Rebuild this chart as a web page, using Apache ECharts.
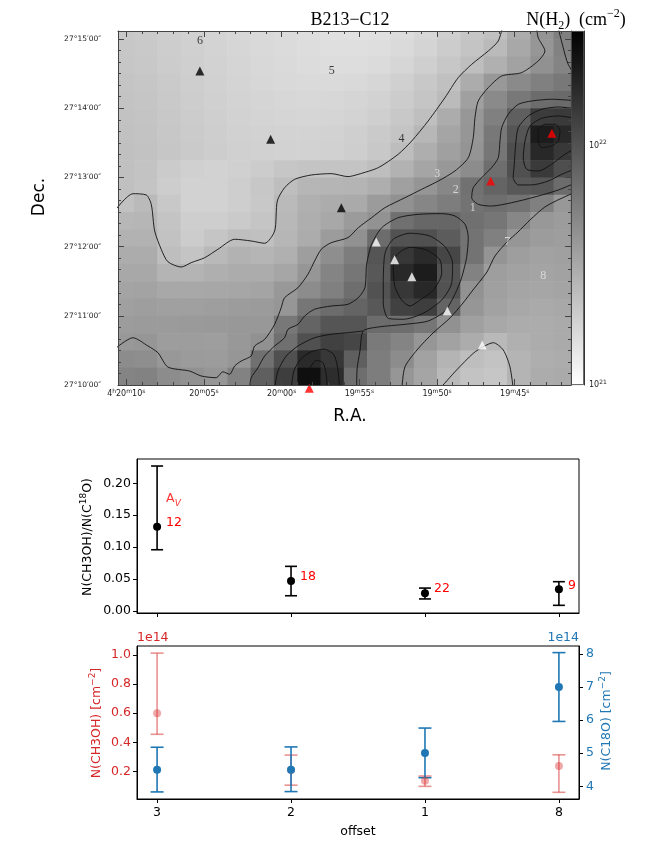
<!DOCTYPE html>
<html>
<head>
<meta charset="utf-8">
<script src="https://cdn.jsdelivr.net/npm/echarts@6/dist/echarts.min.js"></script>
<style>
  html, body { margin: 0; padding: 0; background: #fff; }
  #chart { width: 664px; height: 850px; }
</style>
</head>
<body>
<div id="chart"></div>
<script>
// ---------- map data ----------
// RA in seconds after 4h19m00s, Dec in arcsec after 27d10m00s
var raCenters = [70.25, 68.75, 67.25, 65.75, 64.25, 62.75, 61.25, 59.75, 58.25, 56.75,
                 55.25, 53.75, 52.25, 50.75, 49.25, 47.75, 46.25, 44.75, 43.25, 41.75];
var decCenters = [307.5, 292.5, 277.5, 262.5, 247.5, 232.5, 217.5, 202.5, 187.5, 172.5, 157.5,
                  142.5, 127.5, 112.5, 97.5, 82.5, 67.5, 52.5, 37.5, 22.5, 7.5];
// N(H2) in 1e21 cm^-2, one row per decCenters entry (north at top)
var nH2 = [
  [2.09,2.03,1.92,1.85,1.78,1.71,1.64,1.60,1.56,1.52,1.50,1.52,1.58,1.71,1.90,2.14,2.32,3.03,4.17,5.46],
  [2.12,2.06,1.95,1.87,1.80,1.73,1.66,1.62,1.58,1.54,1.54,1.56,1.64,1.78,1.98,2.20,2.52,3.20,4.06,5.31],
  [2.14,2.09,1.98,1.90,1.82,1.75,1.69,1.64,1.60,1.58,1.58,1.62,1.73,1.90,2.12,2.38,2.87,3.47,4.34,5.17],
  [2.20,2.14,2.03,1.92,1.85,1.78,1.71,1.66,1.64,1.64,1.66,1.73,1.87,2.09,2.32,3.03,3.95,4.78,5.46,6.07],
  [2.23,2.17,2.06,1.95,1.87,1.80,1.75,1.71,1.69,1.71,1.75,1.82,1.98,2.17,2.49,3.56,4.78,6.07,7.13,7.33],
  [2.26,2.20,2.09,1.98,1.90,1.82,1.78,1.75,1.73,1.75,1.80,1.90,2.09,2.35,3.03,4.00,5.46,8.49,13.6,14.0],
  [2.29,2.23,2.12,2.01,1.92,1.85,1.82,1.80,1.80,1.82,1.90,2.03,2.20,2.62,3.33,4.06,6.07,9.71,20.8,17.7],
  [2.32,2.26,2.14,2.03,1.95,1.87,1.85,1.82,1.82,1.85,1.92,2.09,2.42,2.95,3.56,4.17,6.24,10.7,17.7,14.3],
  [2.32,2.23,2.01,1.87,1.82,1.87,1.98,2.14,2.20,2.20,2.20,2.38,2.80,3.33,3.95,4.65,6.95,10.4,14.0,10.7],
  [2.32,2.20,1.95,1.82,1.82,1.92,2.12,2.38,2.65,2.68,2.72,2.95,3.56,4.11,4.97,6.67,7.94,9.33,9.58,7.13],
  [2.29,2.52,2.09,1.82,1.82,1.92,2.09,2.52,2.87,3.03,3.11,3.80,4.34,5.04,5.68,6.49,6.95,6.49,5.46,3.95],
  [2.62,2.65,2.20,1.92,1.92,2.03,2.17,2.58,2.95,3.20,3.80,4.28,6.77,7.63,7.73,6.77,6.24,4.97,3.95,3.75],
  [2.80,2.80,2.26,1.98,2.17,2.38,2.32,2.65,3.03,3.75,4.34,7.13,10.1,10.4,8.85,6.49,5.46,4.06,3.75,3.65],
  [3.03,3.03,2.38,2.20,2.55,2.80,2.69,2.87,3.65,4.53,5.68,9.71,14.5,17.3,11.9,6.49,4.17,3.65,3.47,3.56],
  [3.20,3.20,2.72,2.72,2.91,3.03,3.03,3.29,4.06,5.17,6.24,9.33,17.7,20.8,10.1,5.31,3.65,3.47,3.38,3.47],
  [3.38,3.42,3.20,3.20,3.24,3.29,3.38,3.95,4.65,5.46,6.95,10.1,14.5,17.7,10.1,4.28,3.56,3.33,3.29,3.38],
  [3.56,3.65,3.56,3.56,3.65,3.75,3.80,4.06,6.24,7.13,7.94,9.33,12.7,13.2,7.94,4.06,3.47,3.20,3.11,3.20],
  [3.75,3.80,3.80,3.85,3.90,3.95,3.95,6.07,7.94,9.71,9.71,7.13,6.95,6.24,4.34,3.56,3.20,3.03,3.03,3.11],
  [3.95,4.06,3.70,3.70,3.65,3.95,4.34,6.77,10.4,12.7,11.9,5.91,5.17,4.06,3.47,3.03,2.55,2.87,3.03,3.11],
  [4.65,4.53,3.95,3.80,3.75,4.06,6.77,10.4,17.3,14.5,8.49,5.68,4.65,3.47,2.72,2.38,2.23,2.72,2.95,3.03],
  [5.17,5.31,4.65,4.34,4.06,5.31,8.49,13.2,24.7,16.6,6.95,5.68,4.06,3.33,2.55,2.23,2.14,2.72,3.03,3.11]
];

// contour paths [RA s, Dec arcsec]
var contourA = [[70.8,150],[69.57,165.9],[68.71,164.8],[68.39,156.7],[68.17,133.6],[67.75,117.7],[67.32,106.9],[66.46,102.3],[65.82,106.1],[64.95,110.4],[64.10,117.7],[63.02,126.4],[61.96,124.9],[61.09,122.9],[60.45,133.6],[60.28,159.6],[59.81,171.1],[59.16,178.4],[58.10,182.1],[56.81,183.3],[55.73,180.7],[55.07,182.7],[53.78,188.5],[52.50,200.1],[51.63,211.6],[50.57,229.0],[49.49,249.2],[48.64,266.5],[47.77,278.1],[46.70,289.7],[46.06,298.4],[45.76,312]];
var contourB = [[70.8,30.5],[69.57,41.0],[68.60,33.8],[67.96,28.0],[67.32,15.6],[65.92,12.1],[65.17,7.8],[64.21,6.3],[63.78,11.5],[63.35,9.3],[63.02,16.5],[62.60,20.8],[61.96,25.2],[61.74,33.8],[61.09,39.6],[60.45,52.6],[60.03,67.0],[59.81,75.7],[58.95,84.4],[58.31,96.0],[57.88,107.5],[57.45,117.7],[56.81,123.4],[55.73,127.8],[55.07,136.4],[54.21,145.1],[53.35,153.8],[52.07,162.4],[50.99,169.7],[49.92,176.9],[48.85,185.6],[47.99,197.1],[47.67,214.5],[47.56,231.8],[47.35,246.3],[46.70,257.9],[45.84,268.0],[44.56,270.9],[43.49,281.0],[43.06,289.7],[43.49,301.2],[43.62,312]];
var contourE = [[40.8,169],[42.09,161.3],[43.06,154.4],[44.02,143.1],[44.79,132.7],[45.50,124.0],[46.27,111.9],[46.79,98.0],[47.69,82.4],[48.33,71.1],[49.17,58.1],[50.26,45.1],[51.29,30.4],[52.07,15.6],[52.26,-3]];
var contourM1 = [[62.06,-3],[61.96,6.3],[61.52,15.0],[61.09,25.2],[60.45,33.8],[59.81,41.0],[59.59,48.3],[58.95,52.6],[58.52,59.8],[57.88,65.7],[56.81,68.5],[55.73,70.0],[55.07,75.7],[54.64,84.4],[54.53,104.7],[54.21,122.0],[53.56,136.4],[52.50,145.1],[51.21,148.0],[49.70,148.6],[48.85,146.6],[48.20,139.4],[47.99,127.8],[48.10,110.4],[48.42,93.1],[48.85,78.7],[49.49,64.2],[50.57,55.5],[52.07,52.6],[53.78,50.3],[54.75,46.8],[54.96,29.5],[55.15,13.0],[55.17,-3]];
var contourM2 = [[53.46,91.1],[53.35,114.2],[52.82,126.4],[51.74,131.6],[50.46,129.2],[49.49,119.9],[49.00,105.6],[49.06,88.2],[49.70,73.7],[50.89,62.2],[52.17,57.0],[53.14,57.8],[53.46,70.9],[53.46,91.1]];
var contourM3 = [[52.82,102.6],[52.60,112.7],[51.74,119.4],[50.67,117.1],[49.81,108.4],[49.70,96.9],[50.24,82.4],[51.10,73.7],[51.74,68.5],[52.28,73.7],[52.71,85.3],[52.82,102.6]];
var contourR1 = [[60.45,-3],[60.24,12.1],[59.70,25.2],[58.95,33.8],[57.88,41.0],[56.81,44.0],[55.73,45.4],[54.77,46.8]];
var contourR2 = [[59.38,-3],[59.21,12.1],[58.78,22.3],[58.10,28.9],[57.23,31.0],[56.63,26.0],[56.38,13.6],[56.27,-3]];
var contourR3 = [[58.35,-3],[58.20,13.6],[57.77,21.4],[57.34,19.3],[57.13,9.3],[57.07,-3]];
var contourBR = [[49.81,-3],[48.74,13.0],[47.67,27.5],[47.03,33.2],[46.38,36.7],[45.74,30.4],[45.31,15.9],[45.10,-3]];
var contourC1 = [[40.8,177],[42.20,169.1],[43.70,163.1],[45.20,158.1],[46.49,155.2],[47.35,156.7],[47.77,162.4],[47.67,171.1],[47.13,179.8],[46.49,188.5],[46.06,197.1],[45.95,211.6],[45.84,223.2],[45.42,234.8],[44.77,243.4],[43.91,246.3],[42.63,247.8],[40.8,246.3]];
var contourC2 = [[40.8,239],[42.20,241.1],[43.27,239.1],[44.13,233.3],[44.77,223.2],[44.94,208.8],[45.03,191.4],[45.10,179.8],[44.77,173.5],[43.91,173.5],[42.84,176.9],[41.98,182.7],[40.8,189]];
var contourC3 = [[40.8,230.4],[42.20,233.3],[43.27,231.3],[44.02,224.6],[44.34,211.6],[44.45,197.1],[44.23,187.1],[43.49,185.6],[42.63,191.4],[41.77,200.1],[40.8,207.3]];
var contourC4 = [[43.49,221.8],[43.06,226.1],[42.41,226.1],[42.09,220.3],[42.20,211.6],[42.63,207.3],[43.27,205.8],[43.49,211.6],[43.49,221.8]];
var contourT = [[42.25,312],[41.88,292.5],[41.56,278.1],[40.8,262]];

var blackTriangles = [[65.26,272.3],[60.71,213.1],[56.16,153.8]];
var whiteTriangles = [[53.91,124.0],[52.73,108.7],[51.62,93.9],[49.34,64.2],[47.09,34.7]];
var redTriangles = [[46.55,176.9],[42.61,218.3],[58.22,-2.9]];

var offsetNamesOnLight = ['6', '5', '4'];
var offsetPosOnLight = [[65.26,298.6],[56.78,272.6],[52.28,213.4]];
var offsetNamesOnDark = ['3', '2', '1', '7', '8'];
var offsetPosOnDark = [[49.99,183.0],[48.80,169.1],[47.71,153.8],[45.48,124.3],[43.17,94.5]];

// ---------- line-of-sight data ----------
var offsets = ['3', '2', '1', '8'];
var ratio = [0.132, 0.047, 0.028, 0.034];
var ratioLow = [0.096, 0.024, 0.019, 0.009];
var ratioHigh = [0.227, 0.070, 0.036, 0.046];
var avValues = [12, 18, 22, 9];
var ch3oh = [0.60, 0.21, 0.135, 0.237];      // 1e14 cm^-2
var ch3ohLow = [0.455, 0.105, 0.097, 0.056];
var ch3ohHigh = [1.013, 0.312, 0.168, 0.314];
var c18o = [4.50, 4.50, 5.01, 7.00];         // 1e14 cm^-2
var c18oLow = [3.83, 3.84, 4.26, 5.96];
var c18oHigh = [5.18, 5.19, 5.76, 8.04];

// ---------- setup ----------
var SANS = '"DejaVu Sans", sans-serif';
var SERIF = '"Liberation Serif", serif';
var RED = '#d62728', BLUE = '#1f77b4';

var raMin = 41.38, raMax = 70.53, decMin = 0, decMax = 307;
var raHalf = Math.abs(raCenters[0] - raCenters[1]) / 2;
var decHalf = Math.abs(decCenters[0] - decCenters[1]) / 2;

var heatData = [];
decCenters.forEach(function (dec, r) {
  raCenters.forEach(function (ra, c) {
    heatData.push([ra, dec, 21 + Math.log10(nH2[r][c])]);
  });
});

var raMajor = [45, 50, 55, 60, 65, 70], raMinor = [];
for (var s = 42; s <= 70; s++) if (s % 5) raMinor.push(s);
var decMajor = [0, 60, 120, 180, 240, 300], decMinor = [];
for (var d = 10; d <= 300; d += 10) if (d % 60) decMinor.push(d);

function raLabel(v) {
  var sec = Math.round(v);
  var m = sec >= 60 ? 20 : 19;
  var ss = sec >= 60 ? sec - 60 : sec;
  var txt = '{b|' + m + '}{s|m}{b|' + (ss < 10 ? '0' : '') + ss + '}{s|s}';
  return sec === 70 ? '{b|4}{s|h}' + txt : txt;
}
function decLabel(v) {
  return '27°' + (10 + Math.round(v / 60)) + '′00″';
}
var smallRich = {
  b: { fontSize: 8, lineHeight: 12, verticalAlign: 'middle', fontFamily: SANS, color: '#222' },
  s: { fontSize: 6, lineHeight: 6, verticalAlign: 'top', fontFamily: SANS, color: '#222' }
};

function mapAxis(isX, pos, ticks, len, labels) {
  var ax = {
    gridIndex: 0, type: 'value', position: pos, z: 10,
    min: isX ? raMin : decMin, max: isX ? raMax : decMax,
    axisLine: { show: !!labels, onZero: false, lineStyle: { color: '#444', width: 1 } },
    axisTick: { inside: true, length: len, customValues: ticks, lineStyle: { color: '#444', width: 1 } },
    axisLabel: { show: false },
    splitLine: { show: false }
  };
  if (isX) ax.inverse = true;
  if (labels) ax.axisLabel = labels;
  return ax;
}

function errorBarItem(capHalf, width) {
  return function (params, api) {
    var x = api.value(0);
    var lo = api.coord([x, api.value(1)]);
    var hi = api.coord([x, api.value(2)]);
    var st = { stroke: api.visual('color'), lineWidth: width };
    return {
      type: 'group',
      children: [
        { type: 'line', shape: { x1: lo[0], y1: lo[1], x2: hi[0], y2: hi[1] }, style: st },
        { type: 'line', shape: { x1: lo[0] - capHalf, y1: lo[1], x2: lo[0] + capHalf, y2: lo[1] }, style: st },
        { type: 'line', shape: { x1: hi[0] - capHalf, y1: hi[1], x2: hi[0] + capHalf, y2: hi[1] }, style: st }
      ]
    };
  };
}
function bars(lo, hi) {
  return offsets.map(function (o, i) { return [i, lo[i], hi[i]]; });
}
function points(v) {
  return offsets.map(function (o, i) { return [i, v[i]]; });
}

var tickFont = { fontFamily: SANS, fontSize: 12.5, color: '#000' };

var series = [
  {
    type: 'custom', xAxisIndex: 0, yAxisIndex: 0, data: heatData, encode: { x: 0, y: 1 },
    silent: true, z: 1,
    renderItem: function (params, api) {
      var a = api.coord([api.value(0) + raHalf, api.value(1) + decHalf]);
      var b = api.coord([api.value(0) - raHalf, api.value(1) - decHalf]);
      var cs = params.coordSys;
      var rect = echarts.graphic.clipRectByRect({
        x: Math.min(a[0], b[0]), y: Math.min(a[1], b[1]),
        width: Math.abs(a[0] - b[0]) + 0.6, height: Math.abs(a[1] - b[1]) + 0.6
      }, { x: cs.x, y: cs.y, width: cs.width, height: cs.height });
      return rect && { type: 'rect', shape: rect, style: { fill: api.visual('color') } };
    }
  }
];

[contourA, contourB, contourE, contourM1, contourM2, contourM3, contourR1, contourR2, contourR3,
 contourBR, contourC1, contourC2, contourC3, contourC4, contourT].forEach(function (c) {
  series.push({
    type: 'line', xAxisIndex: 0, yAxisIndex: 0, data: c, symbol: 'none', silent: true, z: 3,
    smooth: 0.25, lineStyle: { color: '#111', width: 0.9 }
  });
});

[[blackTriangles, '#000'], [whiteTriangles, '#fff'], [redTriangles, '#ff0000']].forEach(function (t) {
  series.push({
    type: 'scatter', xAxisIndex: 0, yAxisIndex: 0, data: t[0], symbol: 'triangle', symbolSize: 9,
    itemStyle: { color: t[1] }, clip: false, silent: true, z: 5
  });
});

[[offsetPosOnLight, offsetNamesOnLight, '#111'], [offsetPosOnDark, offsetNamesOnDark, '#e6e6e6']].forEach(function (g) {
  series.push({
    type: 'scatter', xAxisIndex: 0, yAxisIndex: 0, data: g[0], symbolSize: 1,
    itemStyle: { color: 'transparent' }, silent: true, z: 6,
    label: {
      show: true, position: 'inside', color: g[2], fontFamily: SERIF, fontSize: 12,
      formatter: function (p) { return g[1][p.dataIndex]; }
    }
  });
});

// colorbar
series.push({
  type: 'bar', xAxisIndex: 4, yAxisIndex: 4, data: [1], barWidth: '100%', silent: true,
  itemStyle: {
    borderColor: '#333', borderWidth: 0.8,
    color: new echarts.graphic.LinearGradient(0, 0, 0, 1, [
      { offset: 0, color: '#000000' }, { offset: 1, color: '#ffffff' }
    ])
  }
});

// ratio panel
series.push({
  type: 'custom', xAxisIndex: 5, yAxisIndex: 6, data: bars(ratioLow, ratioHigh), encode: { x: 0, y: [1, 2] },
  itemStyle: { color: '#000' }, renderItem: errorBarItem(6, 1.6), silent: true
});
series.push({
  type: 'scatter', xAxisIndex: 5, yAxisIndex: 6, data: points(ratio), symbolSize: 8,
  itemStyle: { color: '#000', opacity: 1 }, silent: true,
  label: {
    show: true, position: 'right', distance: 5, offset: [0, -4], color: '#ff0000',
    fontFamily: SANS, fontSize: 12.5,
    formatter: function (p) { return String(avValues[p.dataIndex]); }
  }
});
series.push({
  type: 'scatter', xAxisIndex: 5, yAxisIndex: 6, data: points(ratio).slice(0, 1), symbolSize: 8,
  itemStyle: { color: 'transparent' }, silent: true,
  label: {
    show: true, position: 'right', distance: 5, offset: [0, -28],
    formatter: '{a|A}{v|V}',
    rich: {
      a: { color: '#ff0000', fontFamily: SANS, fontSize: 12.5, lineHeight: 18, verticalAlign: 'middle' },
      v: { color: '#ff0000', fontFamily: SANS, fontSize: 9, fontStyle: 'italic', lineHeight: 9, verticalAlign: 'bottom' }
    }
  }
});

// column density panel
series.push({
  type: 'custom', xAxisIndex: 6, yAxisIndex: 7, data: bars(ch3ohLow, ch3ohHigh), encode: { x: 0, y: [1, 2] },
  itemStyle: { color: 'rgba(214,39,40,0.5)' }, renderItem: errorBarItem(6.5, 1.6), silent: true
});
series.push({
  type: 'scatter', xAxisIndex: 6, yAxisIndex: 7, data: points(ch3oh), symbolSize: 8,
  itemStyle: { color: 'rgba(214,39,40,0.5)' }, silent: true
});
series.push({
  type: 'custom', xAxisIndex: 6, yAxisIndex: 8, data: bars(c18oLow, c18oHigh), encode: { x: 0, y: [1, 2] },
  itemStyle: { color: BLUE }, renderItem: errorBarItem(6.5, 1.6), silent: true
});
series.push({
  type: 'scatter', xAxisIndex: 6, yAxisIndex: 8, data: points(c18o), symbolSize: 8,
  itemStyle: { color: BLUE, opacity: 1 }, silent: true
});

function supRich(size, color) {
  return {
    b: { fontSize: size, lineHeight: 18, verticalAlign: 'middle', fontFamily: SANS, fill: color, color: color },
    p: { fontSize: size * 0.72, lineHeight: 9, verticalAlign: 'top', fontFamily: SANS, fill: color, color: color }
  };
}
function gText(x, y, text, opts) {
  opts = opts || {};
  return {
    type: 'text', x: x, y: y, rotation: opts.rot || 0, silent: true,
    style: {
      text: text, rich: opts.rich, fill: opts.color || '#000',
      font: opts.font || ('12.5px ' + SANS),
      align: opts.align || 'center', verticalAlign: 'middle',
      textAlign: opts.align || 'center', textVerticalAlign: 'middle'
    }
  };
}
function panelAxisLine() {
  return { show: true, onZero: false, lineStyle: { color: '#000' } };
}

var option = {
  animation: false,
  backgroundColor: '#fff',
  grid: [
    { left: 118, top: 31, width: 453, height: 354 },
    { left: 571, top: 31, width: 13, height: 354 },
    { left: 137, top: 459, width: 442, height: 154, show: true, borderColor: '#000', borderWidth: 1 },
    { left: 137, top: 646, width: 442, height: 153, show: true, borderColor: '#000', borderWidth: 1 }
  ],
  visualMap: {
    type: 'continuous', show: false, seriesIndex: 0, dimension: 2,
    min: 21, max: 22.48, inRange: { color: ['#ffffff', '#000000'] }
  },
  xAxis: [
    mapAxis(true, 'bottom', raMajor, 6, {
      customValues: raMajor, formatter: raLabel, rich: smallRich, margin: 3
    }),
    mapAxis(true, 'bottom', raMinor, 3),
    mapAxis(true, 'top', raMajor, 6, { show: false }),
    mapAxis(true, 'top', raMinor, 3),
    { gridIndex: 1, type: 'category', data: ['cb'], show: false },
    {
      gridIndex: 2, type: 'value', min: -0.15, max: 3.15,
      axisLine: panelAxisLine(),
      axisTick: { length: 4, customValues: [0, 1, 2, 3], lineStyle: { color: '#000' } },
      axisLabel: { show: false }, splitLine: { show: false }
    },
    {
      gridIndex: 3, type: 'value', min: -0.15, max: 3.15,
      axisLine: panelAxisLine(),
      axisTick: { length: 4, customValues: [0, 1, 2, 3], lineStyle: { color: '#000' } },
      axisLabel: Object.assign({ customValues: [0, 1, 2, 3], margin: 7,
        formatter: function (v) { return offsets[Math.round(v)]; } }, tickFont),
      splitLine: { show: false },
      name: 'offset', nameLocation: 'middle', nameGap: 26,
      nameTextStyle: { fontFamily: SANS, fontSize: 12.5, color: '#000' }
    }
  ],
  yAxis: [
    mapAxis(false, 'left', decMajor, 6, {
      customValues: decMajor, formatter: decLabel, margin: 17,
      fontFamily: SANS, fontSize: 7.5, color: '#222'
    }),
    mapAxis(false, 'left', decMinor, 3),
    mapAxis(false, 'right', decMajor, 6, { show: false }),
    mapAxis(false, 'right', decMinor, 3),
    { gridIndex: 1, type: 'value', min: 0, max: 1, show: false },
    {
      gridIndex: 1, type: 'value', position: 'right', min: 21, max: 22.48, z: 10,
      axisLine: { show: true, onZero: false, lineStyle: { color: '#333' } },
      axisTick: { inside: true, length: 4, customValues: [21, 22], lineStyle: { color: '#333' } },
      axisLabel: {
        customValues: [21, 22], margin: 5,
        formatter: function (v) { return '{b|10}{s|' + Math.round(v) + '}'; },
        rich: smallRich
      },
      splitLine: { show: false }
    },
    {
      gridIndex: 2, type: 'value', min: -0.003, max: 0.238,
      axisLine: panelAxisLine(),
      axisTick: { length: 4, customValues: [0, 0.05, 0.1, 0.15, 0.2], lineStyle: { color: '#000' } },
      axisLabel: Object.assign({ customValues: [0, 0.05, 0.1, 0.15, 0.2], margin: 6,
        formatter: function (v) { return v.toFixed(2); } }, tickFont),
      splitLine: { show: false }
    },
    {
      gridIndex: 3, type: 'value', position: 'left', min: 0.010, max: 1.062,
      axisLine: panelAxisLine(),
      axisTick: { length: 4, customValues: [0.2, 0.4, 0.6, 0.8, 1.0], lineStyle: { color: '#000' } },
      axisLabel: Object.assign({}, tickFont, { color: RED, customValues: [0.2, 0.4, 0.6, 0.8, 1.0], margin: 6,
        formatter: function (v) { return v.toFixed(1); } }),
      splitLine: { show: false }
    },
    {
      gridIndex: 3, type: 'value', position: 'right', min: 3.616, max: 8.24,
      axisLine: panelAxisLine(),
      axisTick: { length: 4, customValues: [4, 5, 6, 7, 8], lineStyle: { color: '#000' } },
      axisLabel: Object.assign({}, tickFont, { color: BLUE, customValues: [4, 5, 6, 7, 8], margin: 7,
        formatter: function (v) { return String(Math.round(v)); } }),
      splitLine: { show: false }
    }
  ],
  graphic: [
    gText(350, 20, 'B213−C12', { font: '18px ' + SERIF }),
    gText(576, 20, '{b|N(H}{d|2}{b|)  (cm}{u|−2}{b|)}', {
      rich: {
        b: { fontSize: 18, lineHeight: 24, verticalAlign: 'middle', fontFamily: SERIF, fill: '#000' },
        d: { fontSize: 12, lineHeight: 12, verticalAlign: 'bottom', fontFamily: SERIF, fill: '#000' },
        u: { fontSize: 12, lineHeight: 12, verticalAlign: 'top', fontFamily: SERIF, fill: '#000' }
      }
    }),
    gText(40, 197, 'Dec.', { font: '17px ' + SANS, rot: Math.PI / 2 }),
    gText(350, 417, 'R.A.', { font: '17px ' + SANS }),
    gText(88, 537, '{b|N(CH3OH)/N(C}{p|18}{b|O)}', { rot: Math.PI / 2, rich: supRich(12.5, '#000') }),
    gText(97, 723, '{b|N(CH3OH) [cm}{p|−2}{b|]}', { rot: Math.PI / 2, rich: supRich(12.5, RED) }),
    gText(607, 721, '{b|N(C18O) [cm}{p|−2}{b|]}', { rot: Math.PI / 2, rich: supRich(12.5, BLUE) }),
    gText(137, 638, '1e14', { color: RED, align: 'left' }),
    gText(579, 638, '1e14', { color: BLUE, align: 'right' })
  ],
  series: series
};

var myChart = echarts.init(document.getElementById('chart'));
myChart.setOption(option);
</script>
</body>
</html>
